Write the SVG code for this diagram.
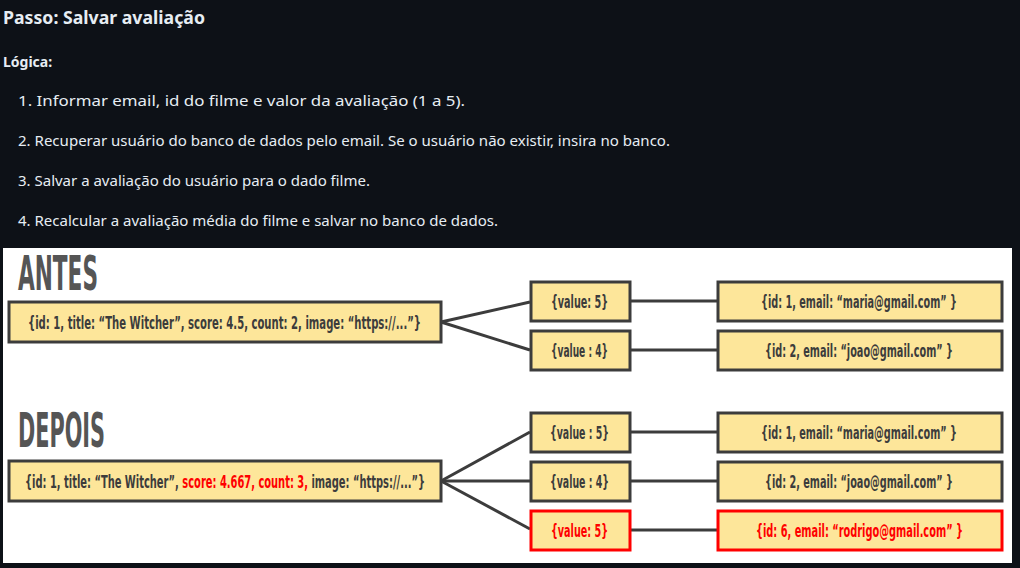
<svg xmlns="http://www.w3.org/2000/svg" width="1020" height="568" viewBox="0 0 1020 568">
<style>
.hdr{font-family:"Noto Sans","Open Sans","DejaVu Sans",sans-serif;fill:#e6edf3}
.h1{font-size:17.5px;font-weight:bold}
.h2{font-size:14px;font-weight:bold}
.li{font-size:15px}
.box{fill:#fde69a;stroke:#3c3c3c;stroke-width:3}
.rbox{fill:#fde69a;stroke:#ff0000;stroke-width:3}
.bt{font-family:"DejaVu Sans Condensed","DejaVu Sans",sans-serif;font-size:18.5px;font-weight:bold;fill:#3c3c3c}
.rt{fill:#ff0000}
.big{font-family:"DejaVu Sans Condensed","DejaVu Sans",sans-serif;font-weight:bold;font-size:48px;fill:#555555}
.conn line{stroke:#3c3c3c;stroke-width:3}
</style>
<rect x="0" y="0" width="1020" height="568" fill="#0d1117"/>
<text class="hdr h1" x="3" y="24" textLength="202" lengthAdjust="spacingAndGlyphs">Passo: Salvar avaliação</text>
<text class="hdr h2" x="3" y="67">Lógica:</text>
<text class="hdr li" x="18" y="106" textLength="447" lengthAdjust="spacingAndGlyphs">1. Informar email, id do filme e valor da avaliação (1 a 5).</text>
<text class="hdr li" x="18" y="146" textLength="652" lengthAdjust="spacingAndGlyphs">2. Recuperar usuário do banco de dados pelo email. Se o usuário não existir, insira no banco.</text>
<text class="hdr li" x="18" y="186" textLength="352" lengthAdjust="spacingAndGlyphs">3. Salvar a avaliação do usuário para o dado filme.</text>
<text class="hdr li" x="18" y="226" textLength="480" lengthAdjust="spacingAndGlyphs">4. Recalcular a avaliação média do filme e salvar no banco de dados.</text>
<rect x="3" y="248" width="1009" height="315" fill="#ffffff"/>
<text class="big" x="18" y="290" textLength="80" lengthAdjust="spacingAndGlyphs">ANTES</text>
<text class="big" x="18" y="447" textLength="87" lengthAdjust="spacingAndGlyphs">DEPOIS</text>
<g class="conn" id="connectors">
<line x1="441" y1="322" x2="530" y2="302"/>
<line x1="441" y1="322" x2="530" y2="350"/>
<line x1="630" y1="301" x2="718" y2="301"/>
<line x1="630" y1="350" x2="718" y2="350"/>
<line x1="441" y1="481" x2="530" y2="432"/>
<line x1="441" y1="481" x2="530" y2="481"/>
<line x1="441" y1="481" x2="530" y2="529"/>
<line x1="630" y1="432" x2="718" y2="432"/>
<line x1="630" y1="481" x2="718" y2="481"/>
<line x1="630" y1="530" x2="718" y2="530"/>
</g>
<g id="antes-movie">
<rect class="box" x="9" y="302" width="432" height="40"/>
<text class="bt" transform="translate(28,329) scale(0.58,1)" x="0" y="0" textLength="677.6" lengthAdjust="spacingAndGlyphs">{id: 1, title: “The Witcher”, score: 4.5, count: 2, image: “https://...”}</text>
</g>
<g id="antes-v1">
<rect class="box" x="531" y="282" width="99" height="39"/>
<text class="bt" transform="translate(551,308) scale(0.58,1)" x="0" y="0" textLength="98.3" lengthAdjust="spacingAndGlyphs">{value: 5}</text>
</g>
<g id="antes-v2">
<rect class="box" x="531" y="331" width="99" height="39"/>
<text class="bt" transform="translate(551,357) scale(0.58,1)" x="0" y="0" textLength="98.3" lengthAdjust="spacingAndGlyphs">{value : 4}</text>
</g>
<g id="antes-u1">
<rect class="box" x="718" y="282" width="284" height="39"/>
<text class="bt" transform="translate(761,308) scale(0.58,1)" x="0" y="0" textLength="337.9" lengthAdjust="spacingAndGlyphs">{id: 1, email: “maria@gmail.com” }</text>
</g>
<g id="antes-u2">
<rect class="box" x="718" y="331" width="284" height="39"/>
<text class="bt" transform="translate(765,357) scale(0.58,1)" x="0" y="0" textLength="324.1" lengthAdjust="spacingAndGlyphs">{id: 2, email: “joao@gmail.com” }</text>
</g>
<g id="depois-movie">
<rect class="box" x="9" y="461" width="432" height="40"/>
<text class="bt" transform="translate(25,488) scale(0.58,1)" x="0" y="0" textLength="689.7" lengthAdjust="spacingAndGlyphs">{id: 1, title: “The Witcher”, <tspan class="rt">score: 4.667, count: 3,</tspan> image: “https://...”}</text>
</g>
<g id="depois-v1">
<rect class="box" x="531" y="413" width="99" height="39"/>
<text class="bt" transform="translate(550,439) scale(0.58,1)" x="0" y="0" textLength="101.7" lengthAdjust="spacingAndGlyphs">{value : 5}</text>
</g>
<g id="depois-v2">
<rect class="box" x="531" y="462" width="99" height="39"/>
<text class="bt" transform="translate(550,488) scale(0.58,1)" x="0" y="0" textLength="101.7" lengthAdjust="spacingAndGlyphs">{value : 4}</text>
</g>
<g id="depois-v3">
<rect class="rbox" x="531" y="511" width="99" height="39"/>
<text class="bt rt" transform="translate(551,537) scale(0.58,1)" x="0" y="0" textLength="98.3" lengthAdjust="spacingAndGlyphs">{value: 5}</text>
</g>
<g id="depois-u1">
<rect class="box" x="718" y="413" width="284" height="39"/>
<text class="bt" transform="translate(761,439) scale(0.58,1)" x="0" y="0" textLength="337.9" lengthAdjust="spacingAndGlyphs">{id: 1, email: “maria@gmail.com” }</text>
</g>
<g id="depois-u2">
<rect class="box" x="718" y="462" width="284" height="39"/>
<text class="bt" transform="translate(765,488) scale(0.58,1)" x="0" y="0" textLength="324.1" lengthAdjust="spacingAndGlyphs">{id: 2, email: “joao@gmail.com” }</text>
</g>
<g id="depois-u3">
<rect class="rbox" x="718" y="511" width="284" height="39"/>
<text class="bt rt" transform="translate(756,537) scale(0.58,1)" x="0" y="0" textLength="356.9" lengthAdjust="spacingAndGlyphs">{id: 6, email: “rodrigo@gmail.com” }</text>
</g>
</svg>
